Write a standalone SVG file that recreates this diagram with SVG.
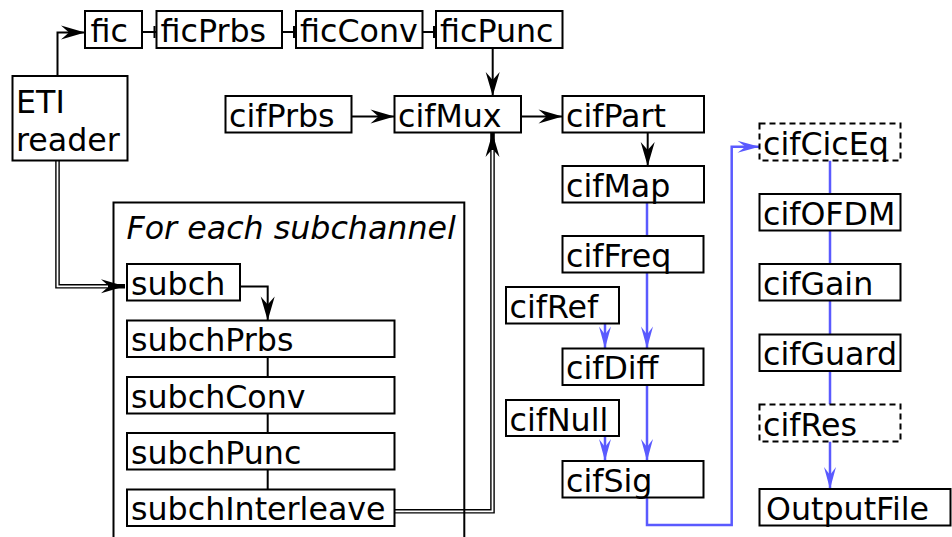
<svg xmlns="http://www.w3.org/2000/svg" width="952" height="537" viewBox="0 0 952 537">
  <style>
    .box { fill: #ffffff; stroke: #000000; stroke-width: 2; }
    .dashed { stroke-dasharray: 6 4; }
    .frame { fill: none; stroke: #000000; stroke-width: 2; }
    .lbl { font-family: "DejaVu Sans", "Liberation Sans", sans-serif; font-size: 31.7px; fill: #000000; }
    .ital { font-style: italic; }
    .blk { fill: none; stroke: #000000; stroke-width: 2; }
    .blu { fill: none; stroke: #5a5aff; stroke-width: 2.5; }
    .dbl-out { fill: none; stroke: #000000; stroke-width: 4.6; }
    .dbl-in { fill: none; stroke: #ffffff; stroke-width: 1.8; }
  </style>
  <defs>
    <marker id="ah-black" markerUnits="userSpaceOnUse" orient="auto" refX="0" refY="0" markerWidth="30" markerHeight="20" viewBox="-26 -10 30 20" overflow="visible">
      <path d="M0,0 L-24,-7 L-16,0 L-24,7 Z" fill="#000000"/>
    </marker>
    <marker id="ah-blue" markerUnits="userSpaceOnUse" orient="auto" refX="0" refY="0" markerWidth="30" markerHeight="20" viewBox="-26 -10 30 20" overflow="visible">
      <path d="M0,0 L-22,-6 L-14,0 L-22,6 Z" fill="#5a5aff"/>
    </marker>
  </defs>

  <rect width="952" height="537" fill="#ffffff"/>

  <!-- connectors -->
  <g id="connectors">
    <!-- FIC chain -->
    <path class="blk" d="M57.5,76 V32.5 H85" marker-end="url(#ah-black)"/>
    <path class="blk" d="M142,32 H156.5 M154.5,26 V38"/>
    <path class="blk" d="M282,32 H296 M294,26 V38"/>
    <path class="blk" d="M422.5,32 H436 M434,26 V38"/>
    <path class="blk" d="M492.7,47.5 V96" marker-end="url(#ah-black)"/>
    <!-- CIF multiplexing -->
    <path class="blk" d="M351.5,116.5 H394.5" marker-end="url(#ah-black)"/>
    <path class="blk" d="M521,116.5 H562.5" marker-end="url(#ah-black)"/>
    <path class="blk" d="M647.7,132.5 V166" marker-end="url(#ah-black)"/>
    <!-- subchannel chain -->
    <path class="blk" d="M240,286.5 H267.7 V320.5" marker-end="url(#ah-black)"/>
    <path class="blk" d="M267.7,357 V377 M267.7,413.5 V433 M267.7,469.5 V489.5"/>
    <!-- double lines -->
    <path class="dbl-out" d="M57.5,160.5 V286.3 H125" marker-end="url(#ah-black)"/>
    <path class="dbl-in" d="M57.5,160 V286.3 H108"/>
    <path class="dbl-out" d="M394.5,511.3 H492.5 V133" marker-end="url(#ah-black)"/>
    <path class="dbl-in" d="M394,511.3 H492.5 V150"/>
    <!-- sample path -->
    <path class="blu" d="M647,202.5 V236"/>
    <path class="blu" d="M647,272.5 V348.5" marker-end="url(#ah-blue)"/>
    <path class="blu" d="M605,323.5 V348.5" marker-end="url(#ah-blue)"/>
    <path class="blu" d="M647,385 V461" marker-end="url(#ah-blue)"/>
    <path class="blu" d="M605,436 V461" marker-end="url(#ah-blue)"/>
    <path class="blu" d="M647,497.5 V525 H731.7 V146.7 H759.5" marker-end="url(#ah-blue)"/>
    <path class="blu" d="M830,160.5 V194 M830,230.5 V264 M830,300.5 V334.5 M830,371 V404.5"/>
    <path class="blu" d="M830,441.5 V489" marker-end="url(#ah-blue)"/>
  </g>

  <!-- per-subchannel frame (open at the bottom) -->
  <g id="subchannel-frame">
    <path class="frame" d="M113.5,545 V202.5 H464.3 V545"/>
    <text class="lbl ital" x="126.5" y="239.3">For each subchannel</text>
  </g>

  <!-- nodes -->
  <g id="eti-reader">
    <rect class="box" x="12.5" y="76" width="115" height="84.5"/>
    <text class="lbl" x="16" y="113.3">ETI</text>
    <text class="lbl" x="16" y="150.7">reader</text>
  </g>
  <g id="fic"><rect class="box" x="85" y="11" width="57" height="37"/><text class="lbl" x="90.5" y="42">fic</text></g>
  <g id="ficPrbs"><rect class="box" x="156.5" y="11" width="125.5" height="37"/><text class="lbl" x="160.5" y="42">ficPrbs</text></g>
  <g id="ficConv"><rect class="box" x="296" y="11" width="126.5" height="37"/><text class="lbl" x="300" y="42">ficConv</text></g>
  <g id="ficPunc"><rect class="box" x="436" y="11" width="126.5" height="37"/><text class="lbl" x="440" y="42">ficPunc</text></g>

  <g id="cifPrbs"><rect class="box" x="225.5" y="96" width="126" height="36.5"/><text class="lbl" x="229" y="126.7">cifPrbs</text></g>
  <g id="cifMux"><rect class="box" x="394.5" y="96" width="126.5" height="36.5"/><text class="lbl" x="398" y="126.7">cifMux</text></g>
  <g id="cifPart"><rect class="box" x="562.5" y="96" width="141.5" height="36.5"/><text class="lbl" x="566" y="126.7">cifPart</text></g>
  <g id="cifMap"><rect class="box" x="562.5" y="166" width="141.5" height="36.5"/><text class="lbl" x="566" y="196.7">cifMap</text></g>
  <g id="cifFreq"><rect class="box" x="562.5" y="236" width="141" height="36.5"/><text class="lbl" x="566" y="266.7">cifFreq</text></g>
  <g id="cifRef"><rect class="box" x="506" y="287" width="113" height="36.5"/><text class="lbl" x="509.5" y="317.7">cifRef</text></g>
  <g id="cifDiff"><rect class="box" x="562.5" y="348.5" width="141" height="36.5"/><text class="lbl" x="566" y="379.2">cifDiff</text></g>
  <g id="cifNull"><rect class="box" x="506" y="400" width="113" height="36"/><text class="lbl" x="509.5" y="430.5">cifNull</text></g>
  <g id="cifSig"><rect class="box" x="562.5" y="461" width="141" height="36.5"/><text class="lbl" x="566" y="491.7">cifSig</text></g>

  <g id="cifCicEq"><rect class="box dashed" x="759.5" y="123.5" width="141" height="37"/><text class="lbl" x="763" y="154.5">cifCicEq</text></g>
  <g id="cifOFDM"><rect class="box" x="759.5" y="194" width="141" height="36.5"/><text class="lbl" x="763" y="224.7">cifOFDM</text></g>
  <g id="cifGain"><rect class="box" x="759.5" y="264" width="141" height="36.5"/><text class="lbl" x="763" y="294.7">cifGain</text></g>
  <g id="cifGuard"><rect class="box" x="759.5" y="334.5" width="141" height="36.5"/><text class="lbl" x="763" y="365.2">cifGuard</text></g>
  <g id="cifRes"><rect class="box dashed" x="759.5" y="404.5" width="141" height="37"/><text class="lbl" x="763" y="435.5">cifRes</text></g>
  <g id="OutputFile"><rect class="box" x="759.5" y="489" width="191" height="36.5"/><text class="lbl" x="766" y="519.7">OutputFile</text></g>

  <g id="subch"><rect class="box" x="127" y="264" width="113" height="36.5"/><text class="lbl" x="131" y="294.5">subch</text></g>
  <g id="subchPrbs"><rect class="box" x="127" y="320.5" width="267.5" height="36.5"/><text class="lbl" x="131" y="351">subchPrbs</text></g>
  <g id="subchConv"><rect class="box" x="127" y="377" width="267.5" height="36.5"/><text class="lbl" x="131" y="407.5">subchConv</text></g>
  <g id="subchPunc"><rect class="box" x="127" y="433" width="267.5" height="36.5"/><text class="lbl" x="131" y="463.5">subchPunc</text></g>
  <g id="subchInterleave"><rect class="box" x="127" y="489.5" width="267.5" height="36.5"/><text class="lbl" x="131" y="520">subchInterleave</text></g>
</svg>
